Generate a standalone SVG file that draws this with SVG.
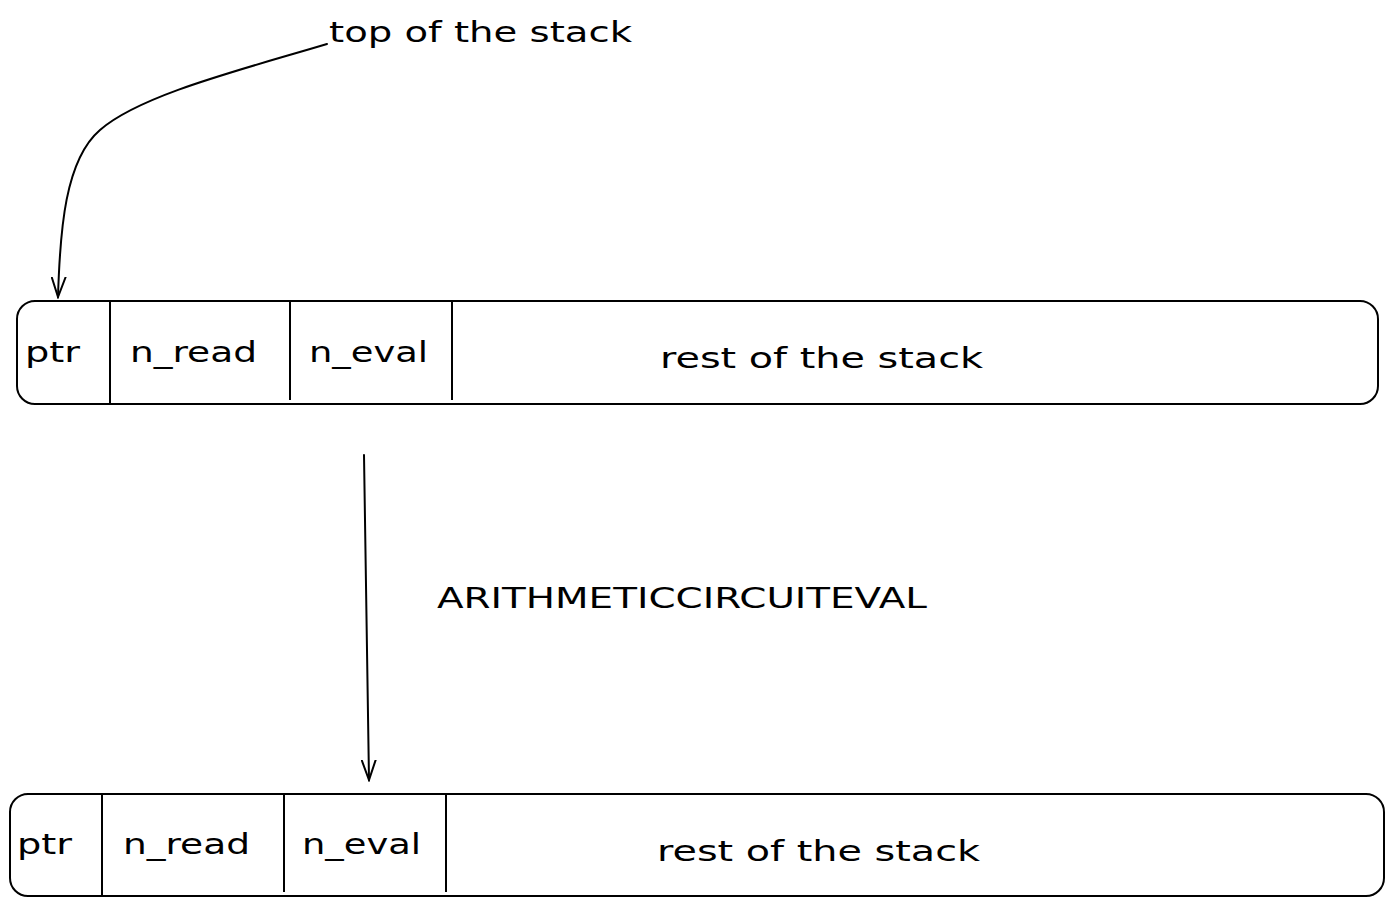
<svg xmlns="http://www.w3.org/2000/svg" width="1394" height="906" viewBox="0 0 1394 906">
<style>
.box{fill:#fff;stroke:#000;stroke-width:2}
.div{stroke:#000;stroke-width:2}
.t{font-family:"DejaVu Sans","Liberation Sans",sans-serif;font-size:28px;fill:#000}
.c{fill:none;stroke:#000;stroke-width:2;stroke-linecap:round}
</style>
<defs>
<marker id="ah" markerWidth="22" markerHeight="16" refX="20" refY="8" orient="auto" markerUnits="userSpaceOnUse">
<path d="M0,1 L20,8 L0,15" fill="none" stroke="#000" stroke-width="2" stroke-linecap="round"/>
</marker>
</defs>
<rect width="1394" height="906" fill="#fff"/>
<g id="stack-before">
<rect class="box" x="17" y="301" width="1361" height="103" rx="18"/>
<line class="div" x1="110" y1="301" x2="110" y2="404"/>
<line class="div" x1="290" y1="301" x2="290" y2="400"/>
<line class="div" x1="452" y1="301" x2="452" y2="400"/>
<text class="t" x="25" y="362" textLength="55" lengthAdjust="spacingAndGlyphs">ptr</text>
<text class="t" x="130" y="362" textLength="127" lengthAdjust="spacingAndGlyphs">n_read</text>
<text class="t" x="309" y="362" textLength="119" lengthAdjust="spacingAndGlyphs">n_eval</text>
<text class="t" x="660" y="368" textLength="323" lengthAdjust="spacingAndGlyphs">rest of the stack</text>
</g>
<g id="stack-after">
<rect class="box" x="10" y="794" width="1374" height="102" rx="18"/>
<line class="div" x1="102" y1="794" x2="102" y2="896"/>
<line class="div" x1="284" y1="794" x2="284" y2="892"/>
<line class="div" x1="446" y1="794" x2="446" y2="892"/>
<text class="t" x="17" y="854" textLength="55" lengthAdjust="spacingAndGlyphs">ptr</text>
<text class="t" x="123" y="854" textLength="127" lengthAdjust="spacingAndGlyphs">n_read</text>
<text class="t" x="302" y="854" textLength="119" lengthAdjust="spacingAndGlyphs">n_eval</text>
<text class="t" x="657" y="861" textLength="323" lengthAdjust="spacingAndGlyphs">rest of the stack</text>
</g>
<g id="label-top">
<text class="t" x="329" y="42" textLength="303" lengthAdjust="spacingAndGlyphs">top of the stack</text>
</g>
<g id="label-op">
<text class="t" x="437" y="608" textLength="490" lengthAdjust="spacingAndGlyphs">ARITHMETICCIRCUITEVAL</text>
</g>
<g id="connectors">
<path class="c" d="M327,44 C240,70 140,95 100,130 C65,160 60,230 58,297" marker-end="url(#ah)"/>
<path class="c" d="M364,455 L369,780" marker-end="url(#ah)"/>
</g>
</svg>
